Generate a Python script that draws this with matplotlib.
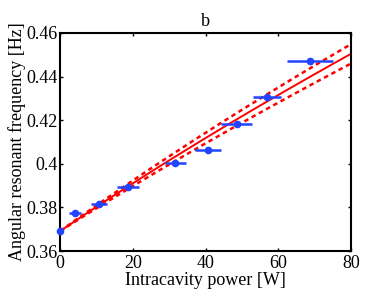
import numpy as np
import matplotlib
matplotlib.use("Agg")
import matplotlib.pyplot as plt

power = [0.0, 4.1, 10.8, 18.6, 31.6, 40.6, 48.5, 56.9, 68.7]
power_err = [0.0, 1.65, 2.2, 3.1, 2.9, 3.5, 4.2, 3.8, 6.3]
freq = [0.3692, 0.3773, 0.3818, 0.3893, 0.4006, 0.4063, 0.4183, 0.4307, 0.4472]

fit_f0 = 0.3692
fit_f80 = 0.4505
fit_rel_unc = 0.06
xticks = [0, 20, 40, 60, 80]
yticks = [0.36, 0.38, 0.40, 0.42, 0.44, 0.46]
ytick_labels = ["0.36", "0.38", "0.4", "0.42", "0.44", "0.46"]

plt.rcParams['font.family'] = ['Liberation Serif', 'DejaVu Serif']
plt.rcParams['font.size'] = 13

fig = plt.figure(figsize=(3.88, 2.92), dpi=100)
ax = fig.add_axes([0.155, 0.140, 0.750, 0.747])

a = fit_f0 ** 2
b = (fit_f80 ** 2 - a) / 80.0
P = np.linspace(0, 80, 200)
ax.plot(P, np.sqrt(a + b * P), color='#ff0000', lw=1.4, zorder=2)
ax.plot(P, np.sqrt(a + b * (1 + fit_rel_unc) * P), color='#ff0000', lw=1.8,
        ls=(0, (1.8, 1.5)), zorder=2)
ax.plot(P, np.sqrt(a + b * (1 - fit_rel_unc) * P), color='#ff0000', lw=1.8,
        ls=(0, (1.8, 1.5)), zorder=2)

ax.errorbar(power, freq, xerr=power_err, fmt='o', color='#2244ff', ms=4.5,
            elinewidth=1.8, capsize=0, zorder=3, clip_on=False)

ax.set_xlim(0, 80)
ax.set_ylim(0.36, 0.46)
ax.set_xticks(xticks)
ax.set_yticks(yticks)
ax.set_yticklabels(ytick_labels)
ax.tick_params(direction='in', length=2.5, width=1, top=True, right=True)
ax.tick_params(axis='x', pad=3)
ax.tick_params(axis='y', pad=2)
for s in ax.spines.values():
    s.set_linewidth(1.5)
ax.set_xlabel('Intracavity power [W]', labelpad=0)
ax.set_ylabel('Angular resonant frequency [Hz]', labelpad=0)
ax.set_title('b', fontsize=13, pad=5)

fig.savefig('out.png', dpi=100)
